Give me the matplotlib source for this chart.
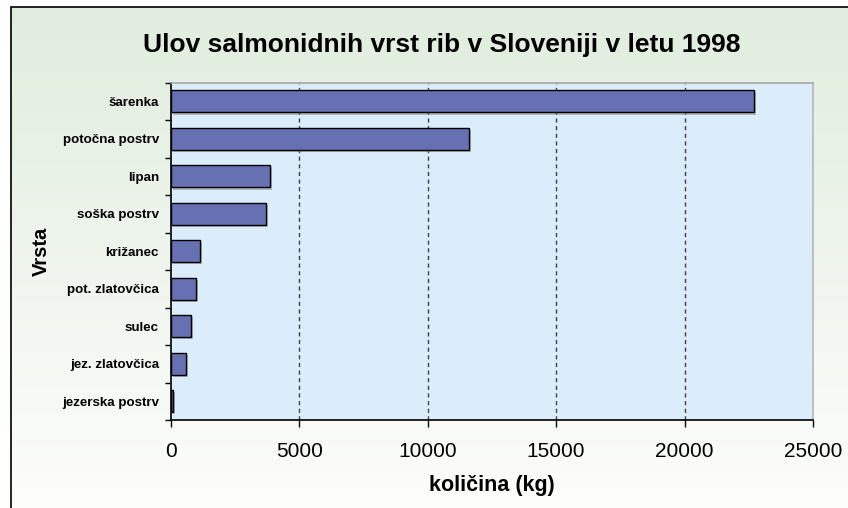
import numpy as np
import matplotlib
matplotlib.use('Agg')
import matplotlib.pyplot as plt
import matplotlib.patheffects as pe

plt.rcParams['font.family'] = ['Liberation Sans', 'DejaVu Sans']

# podatki
vrste = ['šarenka', 'potočna postrv', 'lipan', 'soška postrv', 'križanec',
         'pot. zlatovčica', 'sulec', 'jez. zlatovčica', 'jezerska postrv']
kolicina = [22700, 11600, 3850, 3710, 1150, 970, 780, 610, 90]
x_ticks = [0, 5000, 10000, 15000, 20000, 25000]

W, H = 848, 508
fig = plt.figure(figsize=(W / 100, H / 100), dpi=100)

# ozadje: gradient od svetlo zelene do bele, okvir levo in zgoraj
bg = fig.add_axes([0, 0, 1, 1], zorder=-10)
bg.set_xlim(0, W)
bg.set_ylim(H, 0)
bg.axis('off')
top = np.array([224, 237, 222]) / 255
bot = np.array([253, 253, 252]) / 255
t = np.linspace(0, 1, 256)[:, None]
grad = (top[None, :] * (1 - t) + bot[None, :] * t)[:, None, :]
bg.imshow(grad, extent=(11, W, H, 7), aspect='auto', interpolation='bilinear')
bg.plot([11, 11, W], [H, 7, 7], color='black', lw=1.2, solid_joinstyle='miter')

ax = fig.add_axes([170.7 / W, 1 - 420 / H, (813 - 170.7) / W, (420 - 82.7) / H])
ax.set_facecolor('#dbedfa')

y = np.arange(len(vrste))
bars = ax.barh(y, kolicina, height=0.59, color='#6670b2', edgecolor='black',
               linewidth=1.0, zorder=3)
for b in bars:
    b.set_path_effects([pe.SimplePatchShadow(offset=(1.5, -1.5), shadow_rgbFace='#808080', alpha=0.5),
                        pe.Normal()])

ax.set_xlim(0, 25000)
ax.set_ylim(len(vrste) - 0.5, -0.5)
ax.set_xticks(x_ticks)
ax.set_xticklabels([str(v) for v in x_ticks], fontsize=15)
ax.set_yticks(y)
ax.set_yticklabels(vrste, fontsize=9.6, fontweight='bold')
ax.set_yticks(np.arange(len(vrste) + 1) - 0.5, minor=True)
ax.tick_params(axis='y', which='major', length=0, pad=8.5)
ax.tick_params(axis='y', which='minor', length=4, width=1, direction='out')
ax.tick_params(axis='x', which='major', length=5, width=1, direction='out', pad=11)

for v in x_ticks[1:]:
    ax.axvline(v, color='#404040', lw=1, linestyle=(0, (3, 2.5)), zorder=2)

for s in ['left', 'bottom']:
    ax.spines[s].set_color('black')
    ax.spines[s].set_linewidth(1.2)
ax.spines['top'].set_color('#a8a8a8')
ax.spines['right'].set_color('#b8b8b8')
ax.spines['top'].set_linewidth(1.2)
ax.spines['right'].set_linewidth(1.2)

ax.set_xlabel('količina (kg)', fontsize=15.5, fontweight='bold', labelpad=10)
fig.text(41 / W, 1 - 251 / H, 'Vrsta', rotation=90, fontsize=14.5, fontweight='bold',
         ha='center', va='center')
fig.text(442 / W, 1 - 45 / H, 'Ulov salmonidnih vrst rib v Sloveniji v letu 1998',
         fontsize=19, fontweight='bold', ha='center', va='center')

fig.savefig('out.png', dpi=100)
